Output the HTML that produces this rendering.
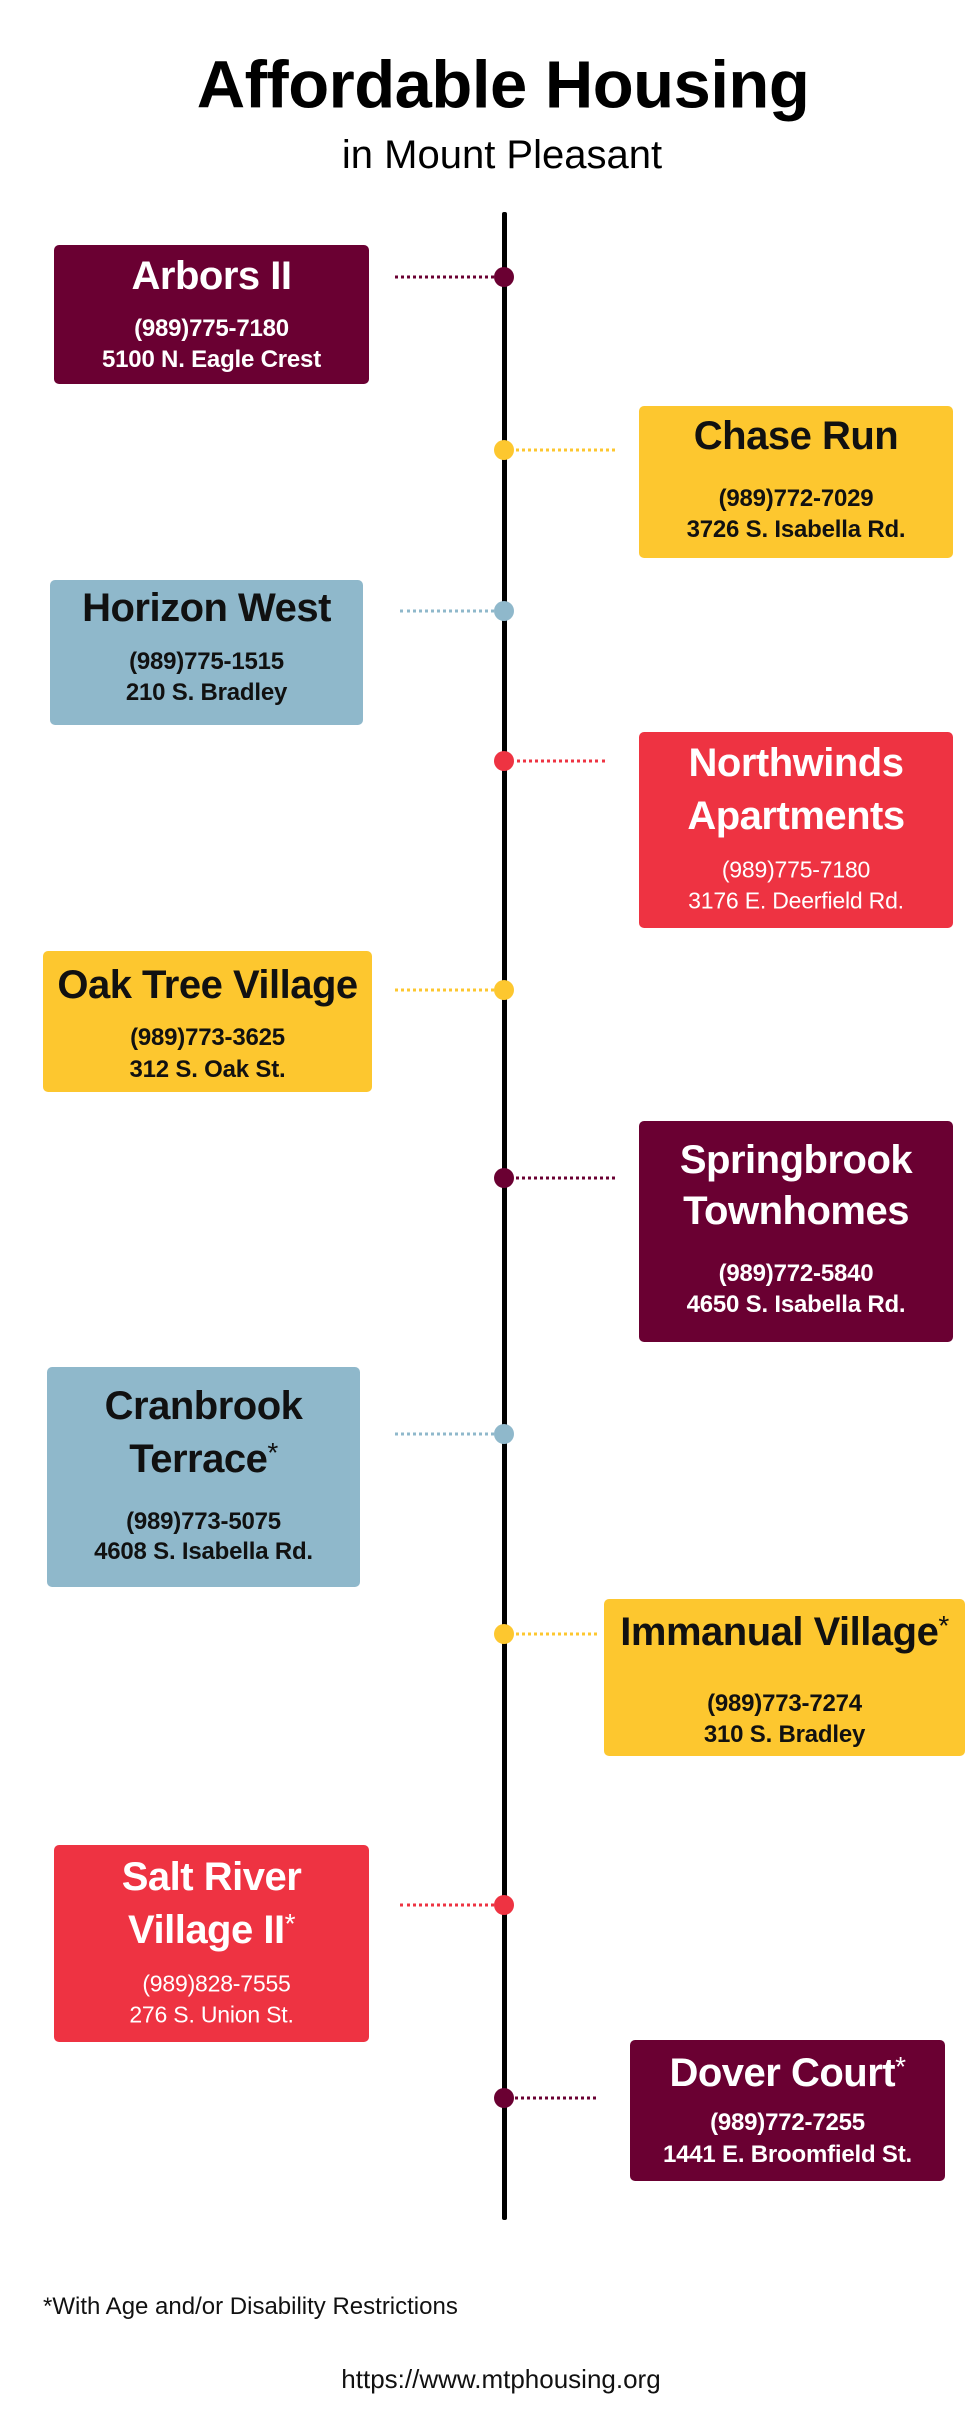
<!DOCTYPE html>
<html><head><meta charset="utf-8"><style>
*{margin:0;padding:0;box-sizing:border-box}
body{width:970px;height:2425px;background:#fff;position:relative;overflow:hidden;font-family:"Liberation Sans",sans-serif}
.t{position:absolute;left:0;width:100%;text-align:center;transform:translateY(-50%);white-space:nowrap;line-height:1}
.box{position:absolute;border-radius:5px}
.box .h{font-weight:bold;font-size:40px;letter-spacing:-0.5px}
.box .d{font-weight:bold;font-size:24px;letter-spacing:-0.2px}
.m{background:#6a0032;color:#fff}.y{background:#fdc72f;color:#111}.b{background:#8fb8cb;color:#111}.r{background:#ee3342;color:#fff}
.r .d{font-weight:normal;font-size:23px}
.dot{position:absolute;width:20px;height:20px;border-radius:50%;left:494px;transform:translateY(-50%)}
.ln{position:absolute;height:0;border-top:3px dotted;transform:translateY(-50%)}
sup{font-size:0.7em;font-weight:normal;vertical-align:0.35em}
</style></head><body>
<div class="t" style="top:85px;font-size:67px;font-weight:bold;color:#000;letter-spacing:-0.5px;padding-left:36px">Affordable Housing</div>
<div class="t" style="top:155px;font-size:40px;color:#000;padding-left:34px">in Mount Pleasant</div>
<div style="position:absolute;left:502px;top:212px;width:5px;height:2008px;background:#000;border-radius:2px"></div>

<div class="ln" style="left:395px;width:105px;top:277px;color:#6a0032"></div><div class="dot" style="top:277px;background:#6a0032"></div>
<div class="box m" style="left:54px;top:245px;width:315px;height:139px">
<div class="t h" style="top:31px">Arbors II</div><div class="t d" style="top:84px">(989)775-7180</div><div class="t d" style="top:115px">5100 N. Eagle Crest</div></div>

<div class="ln" style="left:510px;width:105px;top:450px;color:#fdc72f"></div><div class="dot" style="top:450px;background:#fdc72f"></div>
<div class="box y" style="left:639px;top:406px;width:314px;height:152px">
<div class="t h" style="top:30px">Chase Run</div><div class="t d" style="top:93px">(989)772-7029</div><div class="t d" style="top:124px">3726 S. Isabella Rd.</div></div>

<div class="ln" style="left:400px;width:100px;top:611px;color:#8fb8cb"></div><div class="dot" style="top:611px;background:#8fb8cb"></div>
<div class="box b" style="left:50px;top:580px;width:313px;height:145px">
<div class="t h" style="top:28px">Horizon West</div><div class="t d" style="top:82px">(989)775-1515</div><div class="t d" style="top:113px">210 S. Bradley</div></div>

<div class="ln" style="left:510px;width:95px;top:761px;color:#ee3342"></div><div class="dot" style="top:761px;background:#ee3342"></div>
<div class="box r" style="left:639px;top:732px;width:314px;height:196px">
<div class="t h" style="top:31px">Northwinds</div><div class="t h" style="top:84px">Apartments</div><div class="t d" style="top:138px">(989)775-7180</div><div class="t d" style="top:169px">3176 E. Deerfield Rd.</div></div>

<div class="ln" style="left:395px;width:105px;top:990px;color:#fdc72f"></div><div class="dot" style="top:990px;background:#fdc72f"></div>
<div class="box y" style="left:43px;top:951px;width:329px;height:141px">
<div class="t h" style="top:34px">Oak Tree Village</div><div class="t d" style="top:87px">(989)773-3625</div><div class="t d" style="top:119px">312 S. Oak St.</div></div>

<div class="ln" style="left:510px;width:105px;top:1178px;color:#6a0032"></div><div class="dot" style="top:1178px;background:#6a0032"></div>
<div class="box m" style="left:639px;top:1121px;width:314px;height:221px">
<div class="t h" style="top:39px">Springbrook</div><div class="t h" style="top:90px">Townhomes</div><div class="t d" style="top:153px">(989)772-5840</div><div class="t d" style="top:184px">4650 S. Isabella Rd.</div></div>

<div class="ln" style="left:395px;width:105px;top:1434px;color:#8fb8cb"></div><div class="dot" style="top:1434px;background:#8fb8cb"></div>
<div class="box b" style="left:47px;top:1367px;width:313px;height:220px">
<div class="t h" style="top:39px">Cranbrook</div><div class="t h" style="top:92px">Terrace<sup>*</sup></div><div class="t d" style="top:155px">(989)773-5075</div><div class="t d" style="top:185px">4608 S. Isabella Rd.</div></div>

<div class="ln" style="left:510px;width:87px;top:1634px;color:#fdc72f"></div><div class="dot" style="top:1634px;background:#fdc72f"></div>
<div class="box y" style="left:604px;top:1599px;width:361px;height:157px">
<div class="t h" style="top:33px">Immanual Village<sup>*</sup></div><div class="t d" style="top:105px">(989)773-7274</div><div class="t d" style="top:136px">310 S. Bradley</div></div>

<div class="ln" style="left:400px;width:100px;top:1905px;color:#ee3342"></div><div class="dot" style="top:1905px;background:#ee3342"></div>
<div class="box r" style="left:54px;top:1845px;width:315px;height:197px">
<div class="t h" style="top:32px">Salt River</div><div class="t h" style="top:85px">Village II<sup>*</sup></div><div class="t d" style="top:139px;padding-left:10px">(989)828-7555</div><div class="t d" style="top:170px">276 S. Union St.</div></div>

<div class="ln" style="left:510px;width:86px;top:2098px;color:#6a0032"></div><div class="dot" style="top:2098px;background:#6a0032"></div>
<div class="box m" style="left:630px;top:2040px;width:315px;height:141px">
<div class="t h" style="top:33px">Dover Court<sup>*</sup></div><div class="t d" style="top:83px">(989)772-7255</div><div class="t d" style="top:115px">1441 E. Broomfield St.</div></div>

<div style="position:absolute;left:43px;top:2293px;font-size:24px;color:#111;white-space:nowrap">*With Age and/or Disability Restrictions</div>
<div class="t" style="top:2379px;font-size:26px;color:#111;padding-left:32px;width:970px">https://www.mtphousing.org</div>
</body></html>
